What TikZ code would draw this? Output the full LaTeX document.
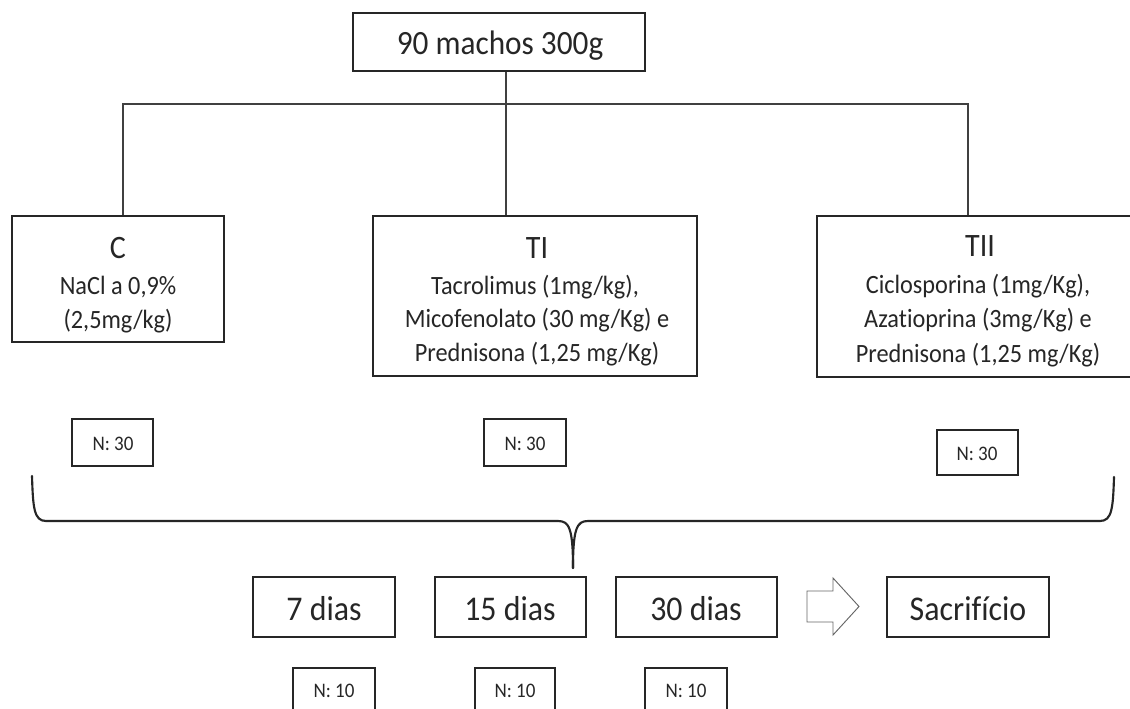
\documentclass[tikz,border=0pt]{standalone}
\usepackage{fontspec}
\setmainfont{Carlito}[FakeStretch=0.92, Ligatures=NoCommon]
\newcommand\fTop{\fontsize{25.5pt}{30pt}\selectfont}
\newcommand\fTitle{\fontsize{24.5pt}{29pt}\selectfont}
\newcommand\fBody{\fontsize{19.8pt}{25.1pt}\selectfont}
\newcommand\fN{\fontsize{15.5pt}{18pt}\selectfont}
\newcommand\fDay{\fontsize{26pt}{30pt}\selectfont}
\tikzset{
  box/.style={draw=black!85, line width=1.9pt, inner sep=0pt},
  conn/.style={draw=black!75, line width=1.1pt},
  txt/.style={anchor=base, inner sep=0pt, text=black!85},
  bracestyle/.style={draw=black!85, line width=1.6pt, line cap=round},
  blockarrow/.style={draw=black!60, line width=0.7pt, fill=white}
}
\begin{document}
\begin{tikzpicture}[x=0.75pt, y=-0.75pt]
\useasboundingbox (0,0) rectangle (1130,709);
\clip (0,0) rectangle (1130,709);
\fill[white] (0,0) rectangle (1130,709);

% main boxes
\node[box, minimum width=219pt, minimum height=43.5pt] (top) at (499,42) {};
\node[box, minimum width=159pt, minimum height=94.5pt] (C) at (118,279) {};
\node[box, minimum width=243pt, minimum height=120pt] (TI) at (535,296) {};
\node[box, minimum width=241.5pt, minimum height=120.75pt] (TII) at (978,296.5) {};

% texts of main boxes
\node[txt, font=\fTop] (toptxt) at (500,55) {90 machos 300g};
\node[txt, font=\fTitle] (Ct) at (118,258) {C};
\node[txt, font=\fBody] (Cb1) at (118,294) {NaCl a 0,9\%};
\node[txt, font=\fBody] (Cb2) at (118,328) {(2,5mg/kg)};
\node[txt, font=\fTitle] (TIt) at (537,258) {TI};
\node[txt, font=\fBody] (TIb1) at (535,294) {Tacrolimus (1mg/kg),};
\node[txt, font=\fBody] (TIb2) at (537,327) {Micofenolato (30 mg/Kg) e};
\node[txt, font=\fBody] (TIb3) at (537,361) {Prednisona (1,25 mg/Kg)};
\node[txt, font=\fTitle] (TIIt) at (980,257) {TII};
\node[txt, font=\fBody] (TIIb1) at (978,293) {Ciclosporina (1mg/Kg),};
\node[txt, font=\fBody] (TIIb2) at (978,327) {Azatioprina (3mg/Kg) e};
\node[txt, font=\fBody] (TIIb3) at (978,362) {Prednisona (1,25 mg/Kg)};

% connectors
\coordinate (hl) at (123,104);
\coordinate (hm) at (506,104);
\coordinate (hr) at (968,104);
\draw[conn] (C.north -| hl) -- (hl) -- (hr) -- (TII.north -| hr);
\draw[conn] (top.south -| hm) -- (hm) -- (TI.north -| hm);

% N:30 boxes
\node[box, line width=1.5pt, minimum width=60.75pt, minimum height=35.25pt] (N30a) at (112.5,442.5) {};
\node[box, line width=1.5pt, minimum width=61.5pt, minimum height=35.25pt] (N30b) at (525,442.5) {};
\node[box, line width=1.5pt, minimum width=60.75pt, minimum height=33.75pt] (N30c) at (977.5,452.5) {};
\node[txt, font=\fN] (N30at) at (113,450) {N: 30};
\node[txt, font=\fN] (N30bt) at (525,450) {N: 30};
\node[txt, font=\fN] (N30ct) at (977,460) {N: 30};

% brace
\coordinate (btip) at (573,568);
\draw[bracestyle] (32,476) .. controls (33,508) and (34,521) .. (46,521) -- (558,521) .. controls (569,521) and (573,528) .. (btip);
\draw[bracestyle] (1114,477) .. controls (1113,508) and (1112,521) .. (1100,521) -- (588,521) .. controls (577,521) and (573,528) .. (btip);

% time boxes
\node[box, minimum width=106.5pt, minimum height=45pt] (d7) at (324,607) {};
\node[box, minimum width=113.25pt, minimum height=45pt] (d15) at (510.5,607) {};
\node[box, minimum width=120.75pt, minimum height=45pt] (d30) at (696.5,607) {};
\node[box, minimum width=121.5pt, minimum height=45pt] (sac) at (968,607) {};
\node[txt, font=\fDay] (d7t) at (324,620) {7 dias};
\node[txt, font=\fDay] (d15t) at (510,620) {15 dias};
\node[txt, font=\fDay] (d30t) at (696,620) {30 dias};
\node[txt, font=\fDay] (sact) at (968,620) {Sacrifício};

% block arrow
\draw[blockarrow] (807,591) -- (833,591) -- (833,578) -- (859,606.5) -- (833,635) -- (833,622) -- (807,622) -- cycle;

% N:10 boxes
\node[box, line width=1.5pt, minimum width=61.5pt, minimum height=34.5pt] (N10a) at (334,691) {};
\node[box, line width=1.5pt, minimum width=60pt, minimum height=34.5pt] (N10b) at (515,691) {};
\node[box, line width=1.5pt, minimum width=61.5pt, minimum height=34.5pt] (N10c) at (686,691) {};
\node[txt, font=\fN] (N10at) at (334,697) {N: 10};
\node[txt, font=\fN] (N10bt) at (515,697) {N: 10};
\node[txt, font=\fN] (N10ct) at (686,697) {N: 10};
\end{tikzpicture}
\end{document}
